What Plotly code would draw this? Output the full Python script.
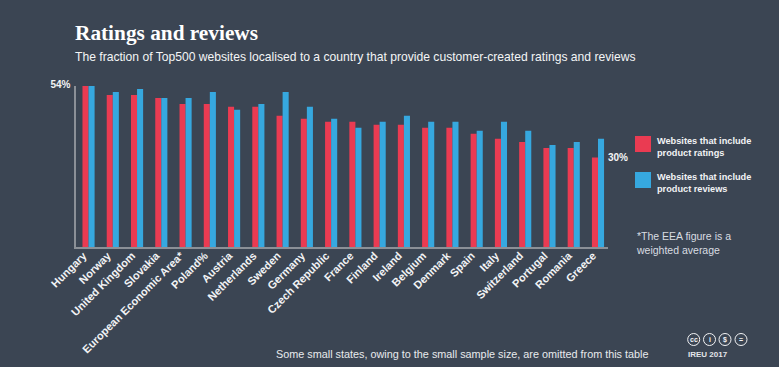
import plotly.graph_objects as go

countries = ["Hungary", "Norway", "United Kingdom", "Slovakia", "European Economic Area*", "Poland%",
             "Austria", "Netherlands", "Sweden", "Germany", "Czech Republic", "France", "Finland",
             "Ireland", "Belgium", "Denmark", "Spain", "Italy", "Switzerland", "Portugal", "Romania", "Greece"]
ratings = [54, 51, 51, 50, 48, 48, 47, 47, 44, 43, 42, 42, 41, 41, 40, 40, 38, 36.3, 35.2, 33.2, 33.2, 30]
reviews = [54, 52, 53, 50, 50, 52, 46, 48, 52, 47, 43, 40, 42, 44, 42, 42, 39, 42, 39, 34.2, 35.2, 36.3]
series_names = ["Websites that include<br>product ratings", "Websites that include<br>product reviews"]

W, H = 779, 367
BG = "#3b4553"
RED = "#ea3b52"
BLUE = "#36a8df"
AXIS = "#8b9097"
SANS = "Liberation Sans, Arial, sans-serif"


def px(x):
    return x / W


def py(y):
    return 1 - y / H


fig = go.Figure()
fig.add_bar(x=countries, y=ratings, name=series_names[0], marker=dict(color=RED, line_width=0))
fig.add_bar(x=countries, y=reviews, name=series_names[1], marker=dict(color=BLUE, line_width=0))


def note(x, y, text, size, color="#f2f3f5", bold=False, family=SANS, xanchor="left", yanchor="middle"):
    fig.add_annotation(xref="paper", yref="paper", x=px(x), y=py(y), text=f"<b>{text}</b>" if bold else text,
                       showarrow=False, xanchor=xanchor, yanchor=yanchor, align="left", borderpad=0,
                       font=dict(size=size, color=color, family=family))


note(74, 33, "Ratings and reviews", 21.3, "#ffffff", True, "Liberation Serif, Georgia, serif")
note(74, 57, "The fraction of Top500 websites localised to a country that provide customer-created ratings and reviews", 12.14, "#f4f5f6")
note(606.5, 157, "30%", 10, "#f4f5f6", True)
note(656, 147, series_names[0], 9.2, "#f2f3f5", True)
note(656, 183, series_names[1], 9.2, "#f2f3f5", True)
note(634.5, 242.5, "*The EEA figure is a<br>weighted average", 10.5, "#d9dde2")
note(275, 354, "Some small states, owing to the small sample size, are omitted from this table", 10.83, "#e8eaed")
note(687, 354, "IREU 2017", 8, "#e4e6ea", True)

shapes = [
    dict(type="rect", xref="paper", yref="paper", x0=px(635), x1=px(651), y0=py(152), y1=py(136),
         fillcolor=RED, line_width=0),
    dict(type="rect", xref="paper", yref="paper", x0=px(635), x1=px(651), y0=py(188), y1=py(172),
         fillcolor=BLUE, line_width=0),
]
for cx, glyph in zip([693.7, 709.5, 725, 741], ["cc", "i", "$", "="]):
    shapes.append(dict(type="circle", xref="paper", yref="paper", x0=px(cx - 6), x1=px(cx + 6),
                       y0=py(339.5 + 6), y1=py(339.5 - 6), line=dict(color="#f2f3f5", width=1)))
    note(cx, 339.5, glyph, 7, "#f2f3f5", True, xanchor="center")

fig.update_layout(
    width=W, height=H, autosize=False,
    margin=dict(l=0, r=0, t=0, b=0),
    paper_bgcolor=BG, plot_bgcolor=BG,
    barmode="group", bargap=0.5, bargroupgap=0,
    showlegend=False, shapes=shapes,
    font=dict(family=SANS, color="#f2f3f5"),
    xaxis=dict(domain=[px(76.4), px(607.7)], range=[-0.5, 21.4], type="category", automargin=False,
               tickangle=-45, showgrid=False, ticks="", showline=True, linecolor=AXIS, linewidth=2,
               ticklabelshift=-5, ticklabelstandoff=-4,
               tickfont=dict(size=11, family=SANS, color="#f2f3f5", weight="bold")),
    yaxis=dict(domain=[py(247), py(86)], range=[0, 54], tickvals=[54], ticktext=["54%"], automargin=False,
               showgrid=False, zeroline=False, ticks="", showline=True, linecolor=AXIS, linewidth=2,
               ticklabelstandoff=2, ticklabelshift=-2,
               tickfont=dict(size=10, family=SANS, color="#f2f3f5", weight="bold")),
)

fig.write_html("out.html", config=dict(displayModeBar=False),
               post_script="document.body.style.margin='0';document.body.style.background='%s';" % BG)
